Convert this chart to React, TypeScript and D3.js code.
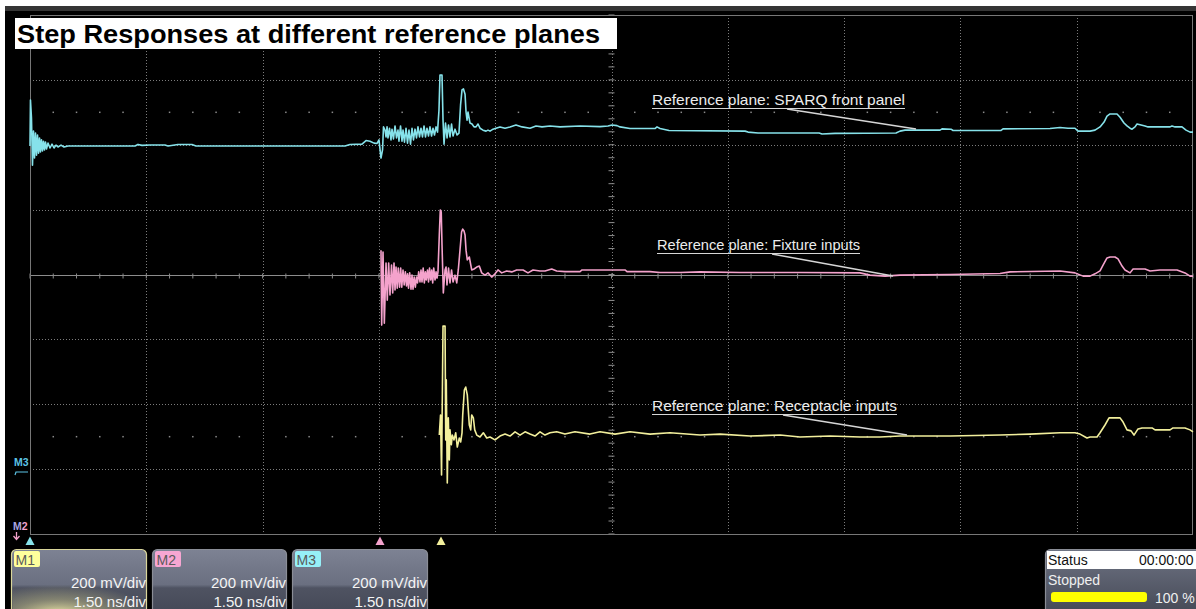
import React from "react";
import * as d3 from "d3";

// ---------- data ----------
const title = "Step Responses at different reference planes";
const annotationTexts = [
  "Reference plane: SPARQ front panel",
  "Reference plane: Fixture inputs",
  "Reference plane: Receptacle inputs",
];
const channelNames = ["M1", "M2", "M3"];
const voltsPerDiv = ["200 mV/div", "200 mV/div", "200 mV/div"];
const timePerDiv = ["1.50 ns/div", "1.50 ns/div", "1.50 ns/div"];
// horizontal position markers (ns) for cyan, pink, yellow traces
const markerTimes = [0, 4.514, 5.301];
const timeDomain = [0, 15]; // ns, 1.5 ns/div x 10
const voltDomain = [-800, 800]; // mV, 200 mV/div x 8
const timeStep = 1.5;
const voltStep = 200;
const statusLabel = "Status";
const statusClock = "00:00:00";
const statusState = "Stopped";
const statusPct = "100 %";

// [time ns, mV]
const cyanTrace: [number, number][] = [
  [0, 396], [0.006, 538], [0.019, 482], [0.032, 337], [0.045, 442], [0.058, 359], [0.071, 436], [0.084, 368],
  [0.097, 430], [0.11, 374], [0.123, 421], [0.135, 378], [0.148, 415], [0.161, 381], [0.174, 411], [0.187, 384],
  [0.2, 408], [0.213, 387], [0.232, 405], [0.258, 390], [0.284, 402], [0.31, 390], [0.335, 399], [0.361, 393],
  [0.4, 399], [0.439, 393], [0.49, 396], [1.354, 396], [1.393, 401], [1.445, 398], [1.548, 399], [1.741, 399],
  [1.78, 396], [1.909, 401], [2.089, 401], [2.141, 396], [4.063, 396], [4.127, 401], [4.282, 402], [4.334, 413],
  [4.385, 411], [4.437, 405], [4.476, 404], [4.501, 415], [4.527, 359], [4.547, 384], [4.559, 455], [4.579, 445],
  [4.592, 424], [4.605, 455], [4.617, 421], [4.637, 451], [4.656, 415], [4.669, 448], [4.688, 418], [4.708, 458],
  [4.727, 421], [4.746, 445], [4.759, 411], [4.779, 458], [4.798, 411], [4.811, 445], [4.83, 408], [4.85, 451],
  [4.869, 405], [4.888, 445], [4.908, 402], [4.927, 451], [4.946, 415], [4.966, 448], [4.985, 421], [5.004, 455],
  [5.024, 424], [5.043, 451], [5.062, 424], [5.082, 458], [5.101, 424], [5.12, 451], [5.14, 427], [5.159, 455],
  [5.179, 427], [5.198, 451], [5.217, 430], [5.237, 455], [5.256, 439], [5.275, 507], [5.288, 615], [5.314, 615],
  [5.327, 476], [5.34, 402], [5.359, 467], [5.379, 421], [5.398, 461], [5.417, 424], [5.437, 464], [5.456, 427],
  [5.482, 448], [5.508, 430], [5.533, 436], [5.553, 522], [5.572, 569], [5.591, 572], [5.611, 556], [5.624, 501],
  [5.637, 476], [5.649, 501], [5.675, 467], [5.701, 464], [5.727, 455], [5.753, 455], [5.778, 464], [5.804, 451],
  [5.843, 445], [5.882, 442], [5.907, 445], [5.933, 442], [5.972, 448], [6.01, 451], [6.062, 455], [6.127, 451],
  [6.191, 455], [6.268, 461], [6.346, 455], [6.449, 451], [6.526, 458], [6.604, 455], [6.707, 458], [6.836, 455],
  [7.094, 458], [7.352, 456], [7.455, 458], [7.507, 461], [7.571, 459], [7.61, 455], [7.739, 450], [8.061, 450],
  [8.087, 455], [8.126, 450], [8.242, 444], [9.222, 442], [9.261, 439], [9.39, 436], [10.177, 436], [10.215, 433],
  [10.383, 435], [11.17, 436], [11.221, 442], [11.286, 445], [11.737, 445], [11.763, 449], [11.879, 448], [11.905, 444],
  [12.524, 444], [12.55, 449], [13.156, 450], [13.285, 453], [13.388, 451], [13.478, 451], [13.517, 442], [13.672, 442],
  [13.736, 445], [13.801, 455], [13.853, 470], [13.891, 488], [13.93, 495], [14.02, 495], [14.059, 485], [14.11, 467],
  [14.149, 458], [14.188, 451], [14.214, 448], [14.252, 455], [14.278, 464], [14.33, 461], [14.381, 458], [14.42, 455],
  [14.704, 455], [14.729, 458], [14.768, 455], [14.858, 455], [14.91, 445], [14.962, 439], [15, 439],
];

const pinkTrace: [number, number][] = [
  [4.527, 75], [4.536, -156], [4.553, 69], [4.57, -150], [4.592, 35], [4.608, -79], [4.626, 35], [4.643, -63],
  [4.663, 29], [4.678, -57], [4.695, 35], [4.708, -48], [4.721, 23], [4.736, -42], [4.75, 20], [4.766, -39],
  [4.781, 20], [4.795, -39], [4.811, 14], [4.826, -32], [4.841, 8], [4.856, -35], [4.869, 2], [4.882, -42],
  [4.897, 5], [4.914, -45], [4.927, -2], [4.94, -45], [4.955, -8], [4.97, -39], [4.985, -8], [4.998, -26],
  [5.013, 8], [5.03, -23], [5.043, 14], [5.056, -23], [5.071, 20], [5.086, -26], [5.099, 8], [5.111, -17],
  [5.127, 14], [5.14, -23], [5.153, 20], [5.168, -17], [5.181, 14], [5.194, -26], [5.207, 20], [5.224, -17],
  [5.237, 8], [5.25, -11], [5.262, 8], [5.279, 122], [5.292, 199], [5.304, 193], [5.314, 91], [5.331, -57],
  [5.353, 14], [5.366, 23], [5.378, -32], [5.398, 20], [5.417, -26], [5.437, 14], [5.456, -23], [5.482, -2],
  [5.504, -26], [5.524, 14], [5.546, 75], [5.566, 131], [5.581, 140], [5.598, 134], [5.611, 122], [5.624, 75],
  [5.64, 45], [5.666, 54], [5.697, 14], [5.727, 17], [5.762, 23], [5.795, 26], [5.826, 5], [5.869, -2],
  [5.907, 5], [5.955, -8], [5.998, 2], [6.036, 14], [6.084, 5], [6.148, 11], [6.213, 8], [6.277, 14],
  [6.359, 14], [6.423, 5], [6.488, 14], [6.578, 11], [6.642, 11], [6.729, 17], [6.793, 11], [6.9, 9],
  [7.094, 9], [7.12, 14], [7.674, 14], [7.7, 9], [7.997, 9], [8.126, 6], [8.384, 6], [8.642, 8],
  [9.158, 6], [9.931, 6], [10.705, 5], [10.834, -2], [11.028, -5], [11.221, -2], [11.866, 0], [12.511, 3],
  [12.64, 8], [13.285, 11], [13.478, 5], [13.582, -5], [13.672, -5], [13.736, 2], [13.801, 11], [13.84, 29],
  [13.891, 51], [13.93, 54], [13.994, 54], [14.033, 48], [14.085, 26], [14.123, 14], [14.188, 5], [14.227, 17],
  [14.278, 17], [14.381, 17], [14.446, 11], [14.575, 14], [14.794, 14], [14.897, 5], [14.962, -5], [15, -5],
];

const yellowTrace: [number, number][] = [
  [5.279, -495], [5.295, -433], [5.308, -618], [5.327, -159], [5.353, -159], [5.362, -510], [5.369, -325], [5.382, -643],
  [5.395, -442], [5.408, -572], [5.417, -479], [5.434, -525], [5.447, -495], [5.469, -510], [5.491, -488], [5.511, -532],
  [5.537, -504], [5.555, -516], [5.572, -488], [5.581, -433], [5.602, -356], [5.62, -347], [5.64, -371], [5.653, -418],
  [5.666, -464], [5.684, -479], [5.697, -433], [5.718, -442], [5.736, -479], [5.762, -495], [5.804, -501], [5.847, -488],
  [5.891, -504], [5.933, -501], [5.998, -510], [6.062, -498], [6.127, -492], [6.191, -498], [6.256, -485], [6.32, -495],
  [6.385, -485], [6.449, -492], [6.513, -498], [6.578, -485], [6.642, -495], [6.707, -488], [6.793, -485], [6.9, -492],
  [7.029, -485], [7.223, -492], [7.352, -485], [7.545, -492], [7.739, -485], [7.997, -492], [8.255, -488], [8.642, -495],
  [8.9, -492], [9.287, -498], [9.674, -495], [9.931, -501], [10.318, -498], [10.705, -501], [10.963, -501], [11.221, -498],
  [11.866, -498], [12.511, -495], [12.898, -492], [13.285, -488], [13.478, -488], [13.543, -492], [13.633, -504], [13.672, -501],
  [13.762, -501], [13.801, -488], [13.865, -464], [13.917, -442], [14.059, -442], [14.098, -455], [14.149, -479], [14.201, -482],
  [14.239, -495], [14.291, -476], [14.343, -473], [14.472, -473], [14.51, -479], [14.704, -479], [14.742, -473], [14.897, -473],
  [14.962, -479], [15, -485],
];

// ---------- styling ----------
const W = 1196;
const H = 609;
const PL = 30, PR = 1193, PT = 15, PB = 534;
const CYAN = "#86e2ea";
const PINK = "#f4a2cc";
const YELLOW = "#f2ef9c";
const GRID = "#7c7c7c";
const FONT = "'Liberation Sans', Arial, sans-serif";

export default function App() {
  const x = d3.scaleLinear().domain(timeDomain).range([PL, PR]);
  const y = d3.scaleLinear().domain(voltDomain).range([PB, PT]);
  const line = d3
    .line<[number, number]>()
    .x((d) => x(d[0]))
    .y((d) => y(d[1]));

  const vLines = d3.range(timeDomain[0], timeDomain[1] + 0.001, timeStep);
  const hLines = d3.range(voltDomain[0], voltDomain[1] + 0.001, voltStep);
  const minorT = d3.range(timeDomain[0], timeDomain[1] + 0.001, timeStep / 5);
  const minorV = d3.range(voltDomain[0], voltDomain[1] + 0.001, voltStep / 5);
  const cx = x((timeDomain[0] + timeDomain[1]) / 2);
  const cy = y(0);

  const traces = [
    { data: cyanTrace, color: CYAN },
    { data: pinkTrace, color: PINK },
    { data: yellowTrace, color: YELLOW },
  ];
  const markerColors = [CYAN, PINK, YELLOW];

  const annLayout = [
    { x: 652, base: 105, w: 253, lead: [787, 109, 916, 129] },
    { x: 657, base: 250, w: 203, lead: [772, 254, 893, 276] },
    { x: 652, base: 411, w: 245, lead: [783, 415, 907, 435] },
  ];

  const boxLayout = [
    { x: 11, w: 135, badge: YELLOW, badgeFill: "#ffff9c", border: "#d9d59a" },
    { x: 152, w: 134, badge: PINK, badgeFill: "#f7a6d2", border: "#8a8d96" },
    { x: 292, w: 135, badge: CYAN, badgeFill: "#96f0f8", border: "#8a8d96" },
  ];

  return (
    <svg
      width={W}
      height={H}
      style={{ position: "absolute", left: 0, top: 0, display: "block" }}
      fontFamily={FONT}
    >
      <defs>
        <linearGradient id="boxGrad" x1="0" y1="0" x2="0" y2="1">
          <stop offset="0" stopColor="#7d8293" />
          <stop offset="0.55" stopColor="#6a6f80" />
          <stop offset="0.6" stopColor="#4f5362" />
          <stop offset="1" stopColor="#444856" />
        </linearGradient>
        <radialGradient id="glow" cx="0.35" cy="1.05" r="0.7">
          <stop offset="0" stopColor="#fbf5b0" stopOpacity="0.95" />
          <stop offset="0.5" stopColor="#c9c48a" stopOpacity="0.45" />
          <stop offset="1" stopColor="#c9c48a" stopOpacity="0" />
        </radialGradient>
        <linearGradient id="statGrad" x1="0" y1="0" x2="0" y2="1">
          <stop offset="0" stopColor="#6e7383" />
          <stop offset="1" stopColor="#454956" />
        </linearGradient>
      </defs>

      {/* frame */}
      <rect x={0} y={0} width={W} height={H} fill="#ffffff" />
      <rect x={5} y={6} width={W - 5} height={H - 6} fill="#000000" />
      <rect x={5} y={6} width={W - 5} height={5} fill="#353535" />

      {/* dot rows */}
      {[500, -500].map((v) =>
        minorT
          .filter((t) => Math.abs(t / timeStep - Math.round(t / timeStep)) > 0.01)
          .map((t, i) => (
            <rect key={`d${v}-${i}`} x={x(t) - 0.75} y={y(v) - 0.75} width={1.5} height={1.5} fill="#8a8a8a" />
          ))
      )}

      {/* grid */}
      {vLines.slice(1, -1).map((t, i) => (
        <line key={`v${i}`} x1={Math.round(x(t)) + 0.5} x2={Math.round(x(t)) + 0.5} y1={PT} y2={PB}
          stroke={GRID} strokeWidth={1} strokeDasharray="1 2" />
      ))}
      {hLines.slice(1, -1).filter((v) => v !== 0).map((v, i) => (
        <line key={`h${i}`} x1={PL} x2={PR} y1={Math.round(y(v)) + 0.5} y2={Math.round(y(v)) + 0.5}
          stroke={GRID} strokeWidth={1} strokeDasharray="1 2" />
      ))}
      {/* center crosshair */}
      <line x1={PL} x2={PR} y1={Math.round(cy) + 0.5} y2={Math.round(cy) + 0.5} stroke="#8c8c8c" strokeWidth={1.2} />
      {minorT.map((t, i) => (
        <line key={`tx${i}`} x1={x(t)} x2={x(t)} y1={cy - 1} y2={cy + 4} stroke="#8c8c8c" strokeWidth={1} />
      ))}
      {minorV.map((v, i) => (
        <line key={`ty${i}`} x1={cx - 3} x2={cx + 3} y1={y(v)} y2={y(v)} stroke="#8c8c8c" strokeWidth={1} />
      ))}
      {/* border */}
      <rect x={PL + 0.5} y={PT + 0.5} width={PR - PL - 1} height={PB - PT} fill="none" stroke="#777" strokeWidth={1} />

      {/* traces */}
      {traces.map((tr, i) => (
        <path key={`tr${i}`} d={line(tr.data) || ""} fill="none" stroke={tr.color} strokeWidth={1.6}
          strokeLinejoin="round" />
      ))}

      {/* annotations */}
      {annotationTexts.map((txt, i) => {
        const a = annLayout[i];
        return (
          <g key={`a${i}`}>
            <line x1={a.lead[0]} y1={a.lead[1]} x2={a.lead[2]} y2={a.lead[3]} stroke="#d6d6d6" strokeWidth={1.5} />
            <text x={a.x} y={a.base} fontSize={15} fill="#ececec" textLength={a.w} lengthAdjust="spacingAndGlyphs">
              {txt}
            </text>
            <line x1={a.x} x2={a.x + a.w} y1={a.base + 3.5} y2={a.base + 3.5} stroke="#d6d6d6" strokeWidth={1} />
          </g>
        );
      })}

      {/* title */}
      <rect x={15} y={18} width={602} height={31} fill="#ffffff" />
      <text x={17} y={43} fontSize={26} fontWeight="bold" fill="#000" textLength={583} lengthAdjust="spacingAndGlyphs">
        {title}
      </text>

      {/* left markers */}
      <text x={14} y={466} fontSize={10.5} fill="#5cc4e6" fontWeight="bold">{channelNames[2]}</text>
      <path d="M15,475 L16,472 L28,472" fill="none" stroke="#5cc4e6" strokeWidth={1.2} />
      <text x={13} y={530} fontSize={10.5} fontWeight="bold">
        <tspan fill="#a9a6e0">M</tspan>
        <tspan fill={PINK}>2</tspan>
      </text>
      <path d="M16.5,532 L16.5,539 M13.5,536 L16.5,539.5 L19.5,536" fill="none" stroke={PINK} strokeWidth={1.3} />

      {/* position triangles */}
      {markerTimes.map((t, i) => {
        const mx = x(t);
        return (
          <path key={`m${i}`} d={`M${mx - 4.5},545 L${mx},536.5 L${mx + 4.5},545 Z`} fill={markerColors[i]} />
        );
      })}

      {/* channel boxes */}
      {channelNames.map((name, i) => {
        const b = boxLayout[i];
        return (
          <g key={`b${i}`}>
            <rect x={b.x + 0.5} y={549.5} width={b.w} height={64} rx={5} fill="url(#boxGrad)" stroke={b.border} strokeWidth={1.2} />
            {i === 0 && <rect x={b.x + 1.5} y={570} width={b.w - 2} height={42} rx={4} fill="url(#glow)" />}
            <rect x={b.x + 3} y={551} width={26} height={16} rx={2} fill={b.badgeFill} />
            <text x={b.x + 4.5} y={565} fontSize={14} fill="#5a5a5a">{name}</text>
            <text x={b.x + b.w} y={588} fontSize={15} fill="#f4f4f4" textAnchor="end">{voltsPerDiv[i]}</text>
            <text x={b.x + b.w} y={607} fontSize={15} fill="#f4f4f4" textAnchor="end">{timePerDiv[i]}</text>
          </g>
        );
      })}

      {/* status box */}
      <rect x={1045.5} y={549.5} width={160} height={64} rx={5} fill="url(#statGrad)" stroke="#8a8d96" strokeWidth={1.2} />
      <rect x={1047} y={551} width={152} height={18} fill="#ffffff" />
      <text x={1048} y={565} fontSize={14} fill="#111">{statusLabel}</text>
      <text x={1139} y={565} fontSize={14} fill="#111">{statusClock}</text>
      <text x={1048} y={585} fontSize={14} fill="#f0f0f0">{statusState}</text>
      <rect x={1051} y={592} width={96} height={10} rx={3} fill="#ffff00" />
      <text x={1155} y={603} fontSize={14} fill="#f0f0f0">{statusPct}</text>
    </svg>
  );
}
